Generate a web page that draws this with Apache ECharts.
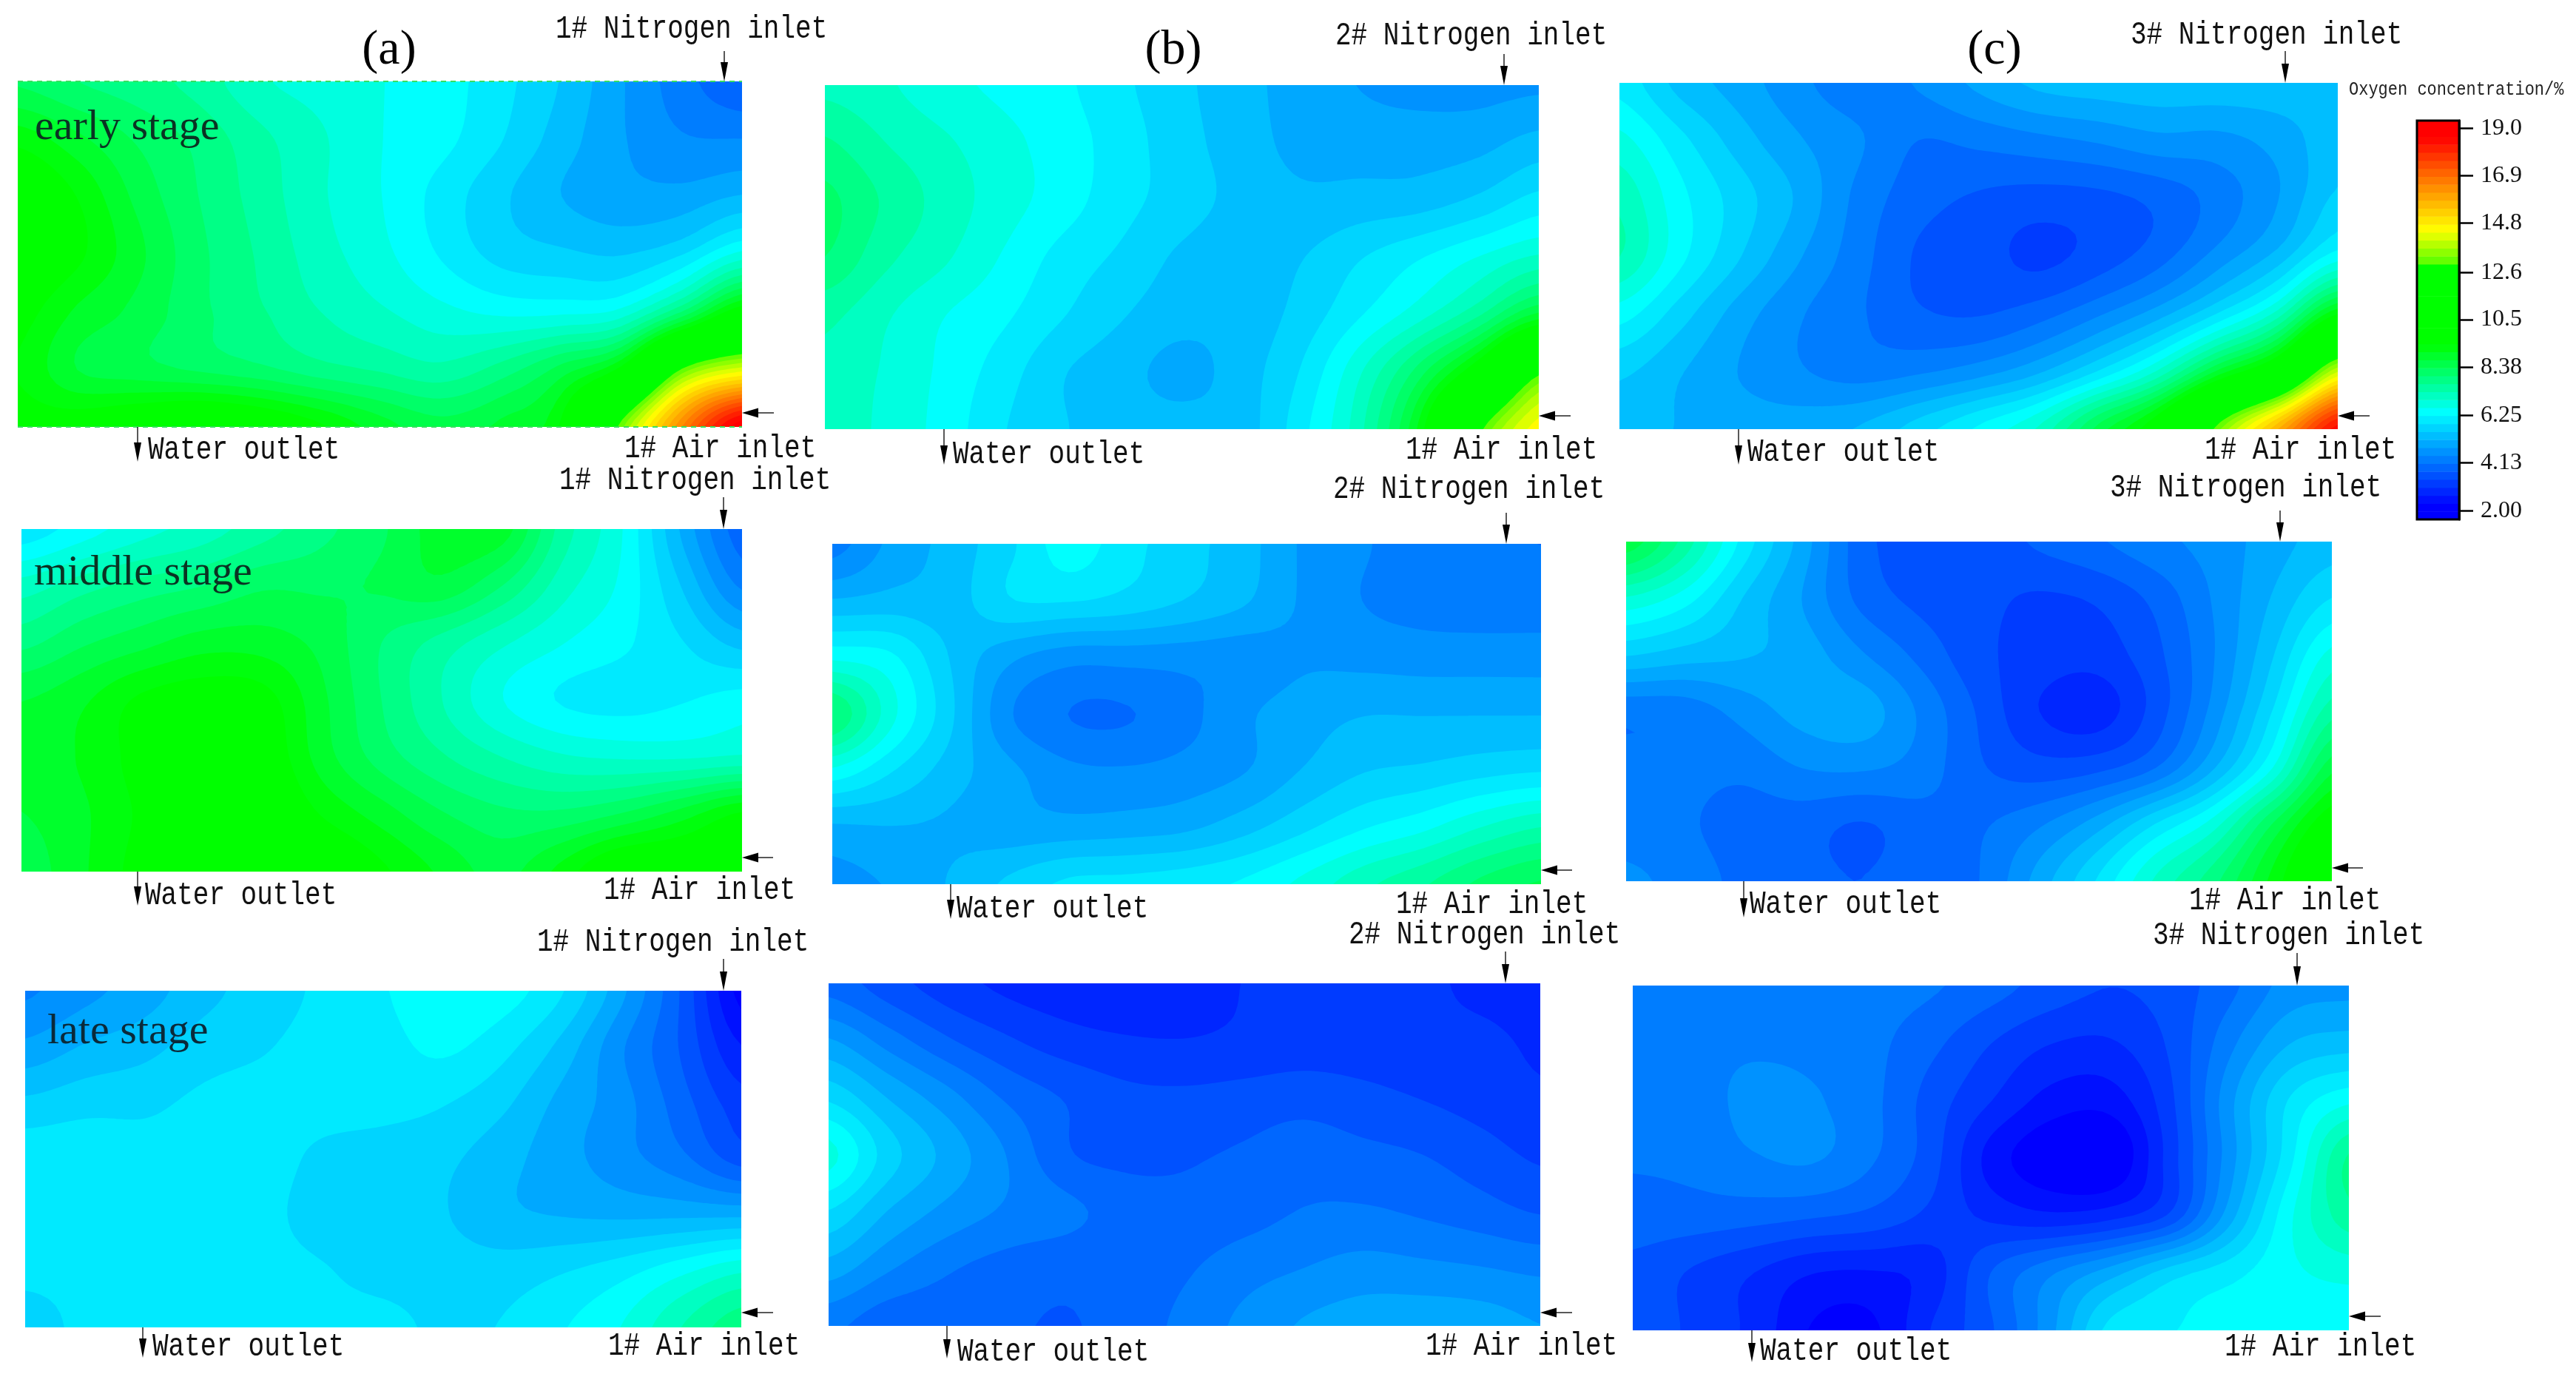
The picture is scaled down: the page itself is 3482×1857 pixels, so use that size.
<!DOCTYPE html>
<html><head><meta charset="utf-8">
<style>html,body{margin:0;padding:0;background:#fff}#c{width:3482px;height:1857px}</style>
<script src="https://cdn.jsdelivr.net/npm/echarts@6/dist/echarts.min.js"></script>
</head><body><div id="c"></div>
<script>
// Oxygen concentration (%) on a 13 x 7 grid (left to right, top to bottom)
const earlyA = [
[8.3,8.0,7.8,7.5,7.0,6.8,6.6,6.4,6.0,5.5,4.85,4.25,3.8],
[9.3,8.8,8.3,7.9,7.4,7.0,6.6,6.35,5.9,5.35,4.85,4.5,4.46],
[10,9.4,8.6,8.0,7.5,7.0,6.6,6.1,5.6,5.17,4.95,4.95,5.2],
[10,9.5,8.8,8.1,7.6,7.1,6.7,6.2,5.75,5.6,5.5,5.85,6.7],
[9.6,9.0,8.6,8.1,7.7,7.3,7.0,6.7,6.5,6.5,6.7,8.0,9.8],
[9.4,8.7,8.5,8.3,8.1,7.8,7.6,7.4,7.8,8.5,9.6,13,14.2],
[9.6,9.7,10,10.3,10,9.5,8.9,8.5,8.8,9.5,13.2,16.5,19]];
const earlyB = [
[7.2,7.0,6.7,6.5,6.3,5.95,5.6,5.3,5.0,4.8,4.7,4.7,4.75],
[7.7,7.3,7.0,6.7,6.4,6.05,5.65,5.35,5.05,5.0,5.0,5.05,5.3],
[8.1,7.6,7.15,6.75,6.4,6.0,5.7,5.4,5.25,5.3,5.35,5.6,6.0],
[8.0,7.4,7.0,6.55,6.1,5.8,5.45,5.3,5.5,5.85,6.2,6.6,7.0],
[7.4,7.0,6.6,6.3,5.9,5.55,5.3,5.3,5.65,6.2,6.8,7.6,8.8],
[7.2,6.9,6.5,6.05,5.55,5.3,5.05,5.35,5.9,6.9,8.2,10,12.8],
[7.2,6.85,6.45,5.9,5.55,5.35,5.3,5.35,6.1,7.2,9.2,12.8,14.6]];
const earlyC = [
[6.1,5.4,5.0,4.55,4.25,4.5,4.9,5.25,5.35,5.4,5.4,5.4,5.4],
[6.7,6.0,5.35,4.85,4.5,4.1,4.2,4.35,4.5,4.7,4.7,4.95,5.4],
[7.2,6.35,5.7,5.1,4.35,3.9,3.7,3.6,3.65,3.85,4.25,4.8,5.6],
[7.3,6.35,5.55,4.85,4.25,3.7,3.55,3.3,3.55,3.95,4.6,5.3,6.4],
[6.4,5.7,5.0,4.5,4.15,3.8,3.72,3.95,4.4,5.0,5.9,7.1,9.4],
[5.6,5.2,4.8,4.5,4.3,4.4,4.65,5.1,5.9,7.0,8.8,10.5,14.0],
[5.3,5.15,5.0,5.0,5.2,5.7,6.3,7.0,8.5,10,13.2,15.8,18.5]];
const middleA = [
[6.0,6.4,6.8,7.1,7.5,7.9,8.3,8.9,8.9,7.5,6.6,5.1,3.9],
[7.1,7.5,7.8,8.0,8.3,8.3,8.4,8.6,8.0,7.1,6.5,5.5,4.4],
[7.9,8.3,8.6,8.9,8.9,8.6,8.0,7.5,7.0,6.6,6.3,5.9,5.4],
[8.7,9.0,9.5,9.7,9.6,8.8,8.0,7.3,6.6,6.2,6.1,6.2,6.4],
[8.9,9.1,9.6,10,9.8,8.9,8.2,7.7,7.3,7.0,6.9,6.9,7.0],
[8.7,9.0,9.5,10,10,9.4,8.9,8.4,8.1,8.1,8.4,8.9,9.5],
[8.5,9.0,9.6,10,10,10,9.5,9.0,8.6,9.2,10,10,10]];
const middleB = [
[4.3,4.9,5.3,5.8,6.4,6.0,5.65,5.3,4.75,4.5,4.2,4.15,4.1],
[5.2,5.3,5.35,5.85,5.9,5.75,5.5,5.2,4.75,4.45,4.3,4.25,4.25],
[6.5,6.3,5.5,4.9,4.6,4.6,4.6,4.6,4.75,4.7,4.65,4.65,4.65],
[8.0,6.7,5.6,4.5,4.1,4.08,4.35,4.75,5.0,5.15,5.15,5.15,5.15],
[6.5,5.9,5.35,4.9,4.55,4.5,4.6,4.8,5.2,5.5,5.6,5.75,5.85],
[5.1,5.15,5.1,4.95,4.95,5.0,5.1,5.4,5.8,6.2,6.5,6.95,7.3],
[4.7,4.85,5.2,5.6,5.95,6.0,6.1,6.3,6.7,7.2,7.6,8.1,8.4]];
const middleC = [
[8.6,7.5,6.1,5.0,3.9,3.55,3.55,3.8,4.05,4.35,4.6,5.0,5.35],
[6.9,6.4,5.5,4.8,4.0,3.65,3.5,3.35,3.45,3.85,4.5,5.2,5.88],
[5.55,5.35,5.2,5.0,4.5,4.0,3.5,3.25,3.2,3.65,4.45,5.5,6.7],
[4.2,4.25,4.6,4.95,5.0,4.4,3.7,3.05,2.85,3.55,4.6,5.9,7.5],
[4.2,4.2,4.2,4.46,4.5,4.3,3.8,3.55,3.65,4.1,5.15,6.6,8.6],
[4.25,4.15,3.95,3.9,3.72,3.95,4.05,4.4,5.0,5.9,6.8,8.4,9.8],
[4.55,4.3,4.0,3.85,3.75,3.95,4.1,4.95,5.9,7.0,7.9,9.2,10.5]];
const lateA = [
[4.4,4.7,5.0,5.4,5.7,5.95,6.2,6.5,6.4,5.9,4.9,3.7,2.2],
[4.9,5.2,5.4,5.7,5.85,6.0,6.1,6.3,6.0,5.4,4.5,3.7,2.7],
[5.6,5.75,5.8,5.95,6.0,6.0,6.0,5.9,5.6,5.05,4.6,3.9,3.2],
[6.1,6.1,6.0,6.0,6.0,5.8,5.7,5.6,5.3,4.95,4.6,4.2,3.6],
[6.0,6.0,6.0,6.0,5.95,5.75,5.7,5.55,5.25,5.15,5.1,5.1,5.1],
[6.0,6.0,6.0,6.0,6.0,5.9,5.75,5.7,5.7,5.85,6.1,6.5,6.9],
[5.6,6.0,6.0,6.0,6.2,6.0,6.0,5.8,5.9,6.2,6.6,7.3,7.9]];
const lateB = [
[3.95,3.55,3.2,2.95,2.8,2.7,2.8,3.05,3.2,3.2,3.15,2.9,2.75],
[4.85,4.3,3.8,3.45,3.2,3.08,3.05,3.12,3.2,3.2,3.15,3.15,2.95],
[5.8,5.15,4.6,4.05,3.72,3.5,3.47,3.53,3.6,3.5,3.38,3.25,3.1],
[6.7,5.7,5.05,4.45,3.8,3.65,3.7,3.8,3.95,3.85,3.75,3.55,3.33],
[5.85,5.15,4.7,4.4,4.2,3.95,3.85,3.95,4.12,4.15,4.05,3.9,3.72],
[5.0,4.5,4.15,3.95,3.85,3.85,4.05,4.3,4.46,4.6,4.55,4.48,4.38],
[4.2,3.85,3.85,3.8,3.72,3.9,4.2,4.55,4.85,5.0,5.05,5.0,4.82]];
const lateC = [
[4.3,4.3,4.3,4.3,4.25,4.15,3.9,3.6,3.4,3.55,4.0,4.6,4.7],
[4.35,4.35,4.4,4.35,4.2,3.85,3.4,3.05,3.0,3.45,4.35,5.15,5.35],
[4.3,4.3,4.55,4.5,4.2,3.6,3.05,2.55,2.5,3.3,4.7,5.9,6.5],
[4.15,4.2,4.42,4.5,4.15,3.55,2.55,2.05,1.95,3.2,4.65,6.1,7.7],
[3.95,3.95,3.9,3.8,3.65,3.3,2.95,2.75,2.9,3.45,5.0,6.5,7.5],
[3.65,3.35,3.05,2.7,2.65,2.85,3.75,4.4,5.0,5.7,6.1,6.5,6.7],
[3.75,3.3,2.95,2.3,2.25,3.05,3.7,4.7,6.0,6.2,6.45,6.35,6.3]];

// Colour bar
const barTicks = [2.00,4.13,6.25,8.38,10.5,12.6,14.8,16.9,19.0];
const barLabels = ['2.00','4.13','6.25','8.38','10.5','12.6','14.8','16.9','19.0'];
const barMin = 1.62, barMax = 19.35, bandCount = 50;
const colourStops = [[2.25,0,0,255],[6.4,0,255,255],[7.9,0,255,128],[9.4,0,255,0],[13,0,255,0],[13.001,85,255,0],[14.5,255,255,0],[16.6,255,128,0],[18.6,255,0,0]];

// Layout: [left, top, right, bottom] of each panel in page pixels
const panels = [
 {values:earlyA, box:[24,110,1003,577]},
 {values:earlyB, box:[1115,115,2080,580]},
 {values:earlyC, box:[2189,112,3160,580]},
 {values:middleA,box:[29,715,1003,1178]},
 {values:middleB,box:[1125,735,2083,1195]},
 {values:middleC,box:[2198,732,3152,1191]},
 {values:lateA,  box:[34,1339,1002,1794]},
 {values:lateB,  box:[1120,1329,2082,1792]},
 {values:lateC,  box:[2207,1332,3175,1798]}
];
// Text annotations: text, left x, centre y
const monoLabels = [
 ['1# Nitrogen inlet',751,39],['2# Nitrogen inlet',1805,48],['3# Nitrogen inlet',2880,47],
 ['Water outlet',200,608],['Water outlet',1288,614],['Water outlet',2362,611],
 ['1# Air inlet',844,606],['1# Air inlet',1900,608],['1# Air inlet',2980,608],
 ['1# Nitrogen inlet',756,649],['2# Nitrogen inlet',1802,661],['3# Nitrogen inlet',2852,659],
 ['Water outlet',196,1210],['Water outlet',1293,1228],['Water outlet',2365,1222],
 ['1# Air inlet',816,1203],['1# Air inlet',1887,1222],['1# Air inlet',2959,1217],
 ['1# Nitrogen inlet',726,1273],['2# Nitrogen inlet',1823,1263],['3# Nitrogen inlet',2910,1264],
 ['Water outlet',206,1820],['Water outlet',1294,1827],['Water outlet',2379,1826],
 ['1# Air inlet',822,1819],['1# Air inlet',1927,1819],['1# Air inlet',3007,1820]
];
// Arrows: tail x, tail y, tip x, tip y
const arrows = [
 [979,69,979,110],[2033,73,2033,115],[3089,69,3089,112],
 [978,672,978,715],[2036,693,2036,735],[3082,690,3082,732],
 [978,1296,978,1339],[2035,1286,2035,1329],[3105,1288,3105,1332],
 [186,577,186,624],[1276,580,1276,628],[2350,580,2350,628],
 [186,1178,186,1224],[1285,1195,1285,1242],[2357,1191,2357,1240],
 [193,1794,193,1835],[1280,1792,1280,1836],[2368,1798,2368,1841],
 [1046,558,1003,558],[2123,562,2080,562],[3203,562,3160,562],
 [1045,1159,1003,1159],[2125,1176,2083,1176],[3194,1173,3152,1173],
 [1045,1774,1002,1774],[2125,1774,2082,1774],[3218,1779,3175,1779]
];

const bandStep = (barMax-barMin)/bandCount;
function colourOf(v){
  const s=colourStops;
  if(v<=s[0][0]) return `rgb(${s[0][1]},${s[0][2]},${s[0][3]})`;
  for(let i=1;i<s.length;i++){ if(v<=s[i][0]){
    const t=(v-s[i-1][0])/(s[i][0]-s[i-1][0]);
    const c=[1,2,3].map(j=>Math.round(s[i-1][j]+(s[i][j]-s[i-1][j])*t));
    return `rgb(${c})`; } }
  const l=s[s.length-1]; return `rgb(${l[1]},${l[2]},${l[3]})`;
}
const bandColour = k => colourOf(barMin+bandStep*(k+0.5));

// Contour regions: smooth surface through the read grid, then the area at or above each band level
const SUB=8;
function cr(a,b,c,d,t){return 0.5*((2*b)+(-a+c)*t+(2*a-5*b+4*c-d)*t*t+(-a+3*b-3*c+d)*t*t*t);}
function surface(g){
  const R=g.length,C=g[0].length,ny=(R-1)*SUB+1,nx=(C-1)*SUB+1,f=[];
  const at=(r,c)=>g[Math.max(0,Math.min(R-1,r))][Math.max(0,Math.min(C-1,c))];
  for(let j=0;j<ny;j++){const row=new Float64Array(nx);
    const r0=Math.min(R-2,Math.floor(j/SUB)),ty=j/SUB-r0;
    for(let i=0;i<nx;i++){
      const c0=Math.min(C-2,Math.floor(i/SUB)),tx=i/SUB-c0,p=[];
      for(let r=-1;r<=2;r++)p.push(cr(at(r0+r,c0-1),at(r0+r,c0),at(r0+r,c0+1),at(r0+r,c0+2),tx));
      row[i]=cr(p[0],p[1],p[2],p[3],ty);
    } f.push(row);}
  return f;
}
function clipTri(t,L,out){
  const poly=[];
  for(let i=0;i<3;i++){const a=t[i],b=t[(i+1)%3];
    if(a[2]>=L)poly.push(a[0],a[1]);
    if((a[2]>=L)!==(b[2]>=L)){const u=(L-a[2])/(b[2]-a[2]);poly.push(a[0]+(b[0]-a[0])*u,a[1]+(b[1]-a[1])*u);}
  }
  if(poly.length>=6)out.push(poly);
}
function regions(f,L){
  const out=[],ny=f.length,nx=f[0].length,d=1/SUB;
  for(let j=0;j<ny-1;j++){let run=-1;
    for(let i=0;i<nx;i++){
      const full=i<nx-1&&f[j][i]>=L&&f[j][i+1]>=L&&f[j+1][i]>=L&&f[j+1][i+1]>=L;
      if(full){if(run<0)run=i;continue;}
      if(run>=0){const x0=run*d,x1=i*d,y0=j*d,y1=(j+1)*d;out.push([x0,y0,x1,y0,x1,y1,x0,y1]);run=-1;}
      if(i<nx-1){
        const x0=i*d,x1=(i+1)*d,y0=j*d,y1=(j+1)*d;
        const A=[x0,y0,f[j][i]],B=[x1,y0,f[j][i+1]],C=[x1,y1,f[j+1][i+1]],D=[x0,y1,f[j+1][i]];
        if(A[2]>=L||B[2]>=L||C[2]>=L)clipTri([A,B,C],L,out);
        if(A[2]>=L||C[2]>=L||D[2]>=L)clipTri([A,C,D],L,out);
      }
    }}
  return out;
}
echarts.graphic.registerShape('contourBand',echarts.graphic.extendShape({
  shape:{rings:[]},
  buildPath(ctx,shape){
    for(const r of shape.rings){ctx.moveTo(r[0],r[1]);
      for(let i=2;i<r.length;i+=2)ctx.lineTo(r[i],r[i+1]);ctx.closePath();}
  }
}));

const grids=[],xAxes=[],yAxes=[],series=[];
panels.forEach((p,idx)=>{
  const [l,t,r,b]=p.box;
  grids.push({left:l,top:t,width:r-l,height:b-t,show:false});
  xAxes.push({type:'value',gridIndex:idx,min:0,max:12,show:false});
  yAxes.push({type:'value',gridIndex:idx,min:0,max:6,inverse:true,show:false});
  const f=surface(p.values),bands={},data=[];
  for(let k=0;k<bandCount;k++){
    const L=k===0?-100:barMin+k*bandStep,rg=regions(f,L);
    if(rg.length){bands[k]=rg;data.push([0,0,k]);}
  }
  series.push({type:'custom',coordinateSystem:'cartesian2d',xAxisIndex:idx,yAxisIndex:idx,
    encode:{x:0,y:1},data,clip:true,silent:true,animation:false,
    renderItem(params,api){
      const k=api.value(2);
      const rings=bands[k].map(q=>{const o=[];for(let i=0;i<q.length;i+=2){const c=api.coord([q[i],q[i+1]]);o.push(c[0],c[1]);}return o;});
      return {type:'contourBand',shape:{rings},style:{fill:bandColour(k),stroke:null}};
    }});
});
// colour bar
const bi=panels.length;
grids.push({left:3267,top:163,width:57,height:539,show:true,borderColor:'#000',borderWidth:3,backgroundColor:'transparent',z:5});
xAxes.push({type:'value',gridIndex:bi,min:0,max:1,show:false});
yAxes.push({type:'value',gridIndex:bi,min:barMin,max:barMax,position:'right',z:20,
  splitLine:{show:false},axisLine:{show:true,onZero:false,lineStyle:{color:'#000',width:3}},
  axisTick:{show:true,inside:false,length:19,lineStyle:{color:'#000',width:2.5},customValues:barTicks},
  axisLabel:{show:true,margin:29,color:'#111',fontFamily:'Liberation Serif',fontSize:32,customValues:barTicks,
    formatter:v=>{let b=0;barTicks.forEach((x,i)=>{if(Math.abs(x-v)<Math.abs(barTicks[b]-v))b=i;});return barLabels[b];}}});
const barData=[];for(let k=0;k<bandCount;k++)barData.push([0,barMin+k*bandStep,k]);
series.push({type:'custom',coordinateSystem:'cartesian2d',xAxisIndex:bi,yAxisIndex:bi,encode:{x:0,y:1},
  data:barData,silent:true,animation:false,
  renderItem(params,api){
    const k=api.value(2),a=api.coord([0,api.value(1)]),b=api.coord([1,api.value(1)+bandStep]);
    return {type:'rect',shape:{x:a[0],y:b[1],width:b[0]-a[0],height:a[1]-b[1]+0.5},style:{fill:bandColour(k)}};
  }});

const graphics=[];
const txt=(s,x,y,size,fam,sy,col,align)=>graphics.push({type:'text',x,y,scaleY:sy,z:100,silent:true,
  style:{text:s,x:0,y:0,fontFamily:fam,fontSize:size,fill:col,verticalAlign:'middle',align:align||'left'}});
monoLabels.forEach(m=>txt(m[0],m[1],m[2],36,'Liberation Mono',1.22,'#111'));
txt('Oxygen concentration/%',3175,121,22,'Liberation Mono',1.15,'#222');
txt('(a)',526,69,66,'Liberation Serif',1,'#000','center');
txt('(b)',1586,69,66,'Liberation Serif',1,'#000','center');
txt('(c)',2696,69,66,'Liberation Serif',1,'#000','center');
txt('early stage',47,173,58,'Liberation Serif',1,'#0b3323');
txt('middle stage',46,775,58,'Liberation Serif',1,'#0b3323');
txt('late stage',64,1395,58,'Liberation Serif',1,'#0b2a3a');
arrows.forEach(a=>{
  const [x0,y0,x1,y1]=a,len=Math.hypot(x1-x0,y1-y0),ux=(x1-x0)/len,uy=(y1-y0)/len;
  const vertical=Math.abs(uy)>0.5,hl=vertical?26:22,hw=vertical?5:6.5;
  graphics.push({type:'line',z:100,silent:true,shape:{x1:x0,y1:y0,x2:x1-ux*hl*0.8,y2:y1-uy*hl*0.8},style:{stroke:'#222',lineWidth:1.5}});
  graphics.push({type:'polygon',z:100,silent:true,shape:{points:[[x1,y1],[x1-ux*hl-uy*hw,y1-uy*hl+ux*hw],[x1-ux*hl+uy*hw,y1-uy*hl-ux*hw]]},style:{fill:'#000'}});
});
// dashed rim on the first panel, as in the source figure
[110,577].forEach(y=>graphics.push({type:'line',z:90,silent:true,shape:{x1:24,y1:y,x2:1003,y2:y},style:{stroke:'#38e060',lineWidth:2,lineDash:[7,6]}}));

const chart=echarts.init(document.getElementById('c'),null,{renderer:'canvas',width:3482,height:1857});
chart.setOption({backgroundColor:'#fff',animation:false,grid:grids,xAxis:xAxes,yAxis:yAxes,series,graphic:{elements:graphics}});
</script></body></html>
